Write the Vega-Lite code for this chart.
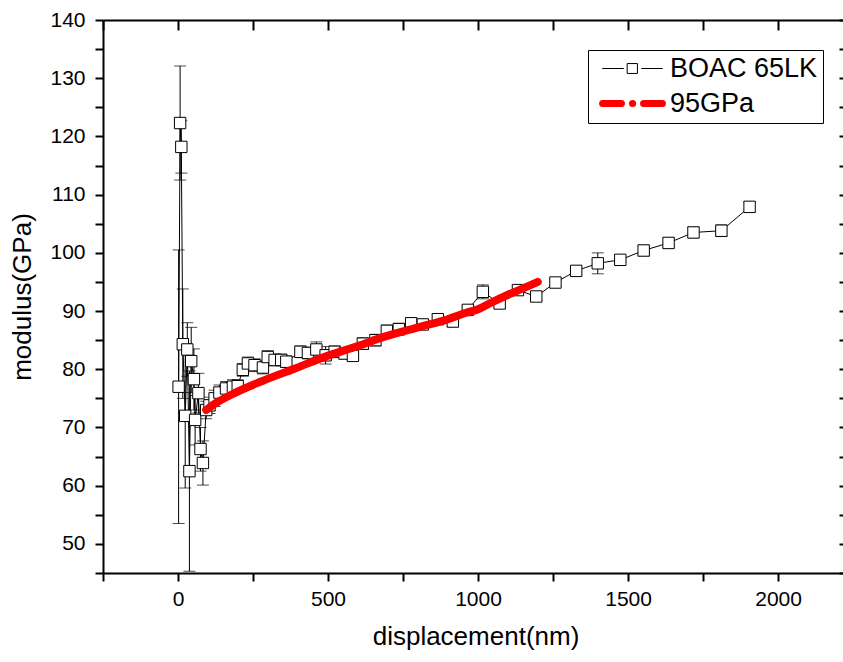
{
  "$schema": "https://vega.github.io/schema/vega-lite/v6.json",
  "width": 745,
  "height": 553,
  "autosize": {"type": "none"},
  "padding": {"left": 103, "top": 20, "right": 0, "bottom": 89},
  "background": "white",
  "config": {
    "view": {"stroke": null},
    "font": "Liberation Sans",
    "axis": {
      "domainColor": "black", "domainWidth": 2, "tickColor": "black", "tickWidth": 2,
      "labelColor": "black", "titleColor": "black", "grid": false,
      "labelFont": "Liberation Sans", "titleFont": "Liberation Sans",
      "labelFontSize": 21, "titleFontSize": 26, "titleFontWeight": "normal",
      "labelOverlap": false, "labelFlush": false
    }
  },
  "datasets": {
    "boac": [
      {"series": "BOAC 65LK", "x": 2, "y": 77.0, "lo": 53.5, "hi": 100.5},
      {"series": "BOAC 65LK", "x": 7, "y": 122.3, "lo": 112.5, "hi": 132.1},
      {"series": "BOAC 65LK", "x": 11, "y": 118.2, "lo": 113.7, "hi": 122.7},
      {"series": "BOAC 65LK", "x": 16, "y": 84.3, "lo": 75.0, "hi": 93.8},
      {"series": "BOAC 65LK", "x": 24, "y": 72.0, "lo": 59.6, "hi": 84.4},
      {"series": "BOAC 65LK", "x": 31, "y": 83.4, "lo": 78.8, "hi": 88.0},
      {"series": "BOAC 65LK", "x": 38, "y": 62.5, "lo": 45.3, "hi": 79.7},
      {"series": "BOAC 65LK", "x": 44, "y": 81.4, "lo": 76.0, "hi": 87.2},
      {"series": "BOAC 65LK", "x": 53, "y": 78.3, "lo": 73.0, "hi": 83.5},
      {"series": "BOAC 65LK", "x": 57, "y": 71.3, "lo": 67.0, "hi": 75.5},
      {"series": "BOAC 65LK", "x": 68, "y": 75.9, "lo": 72.5, "hi": 79.3},
      {"series": "BOAC 65LK", "x": 75, "y": 66.3, "lo": 62.5, "hi": 70.0},
      {"series": "BOAC 65LK", "x": 83, "y": 63.9, "lo": 60.1, "hi": 67.7},
      {"series": "BOAC 65LK", "x": 94, "y": 73.0, "lo": 71.5, "hi": 74.5},
      {"series": "BOAC 65LK", "x": 105, "y": 73.8, "lo": 72.4, "hi": 75.2},
      {"series": "BOAC 65LK", "x": 122, "y": 75.0, "lo": 73.6, "hi": 76.4},
      {"series": "BOAC 65LK", "x": 138, "y": 76.0, "lo": 74.7, "hi": 77.3},
      {"series": "BOAC 65LK", "x": 160, "y": 76.7, "lo": 75.5, "hi": 77.9},
      {"series": "BOAC 65LK", "x": 183, "y": 77.0, "lo": 75.8, "hi": 78.2},
      {"series": "BOAC 65LK", "x": 199, "y": 77.1, "lo": 76.0, "hi": 78.2},
      {"series": "BOAC 65LK", "x": 216, "y": 79.9, "lo": 78.8, "hi": 81.0},
      {"series": "BOAC 65LK", "x": 233, "y": 81.0, "lo": 79.9, "hi": 82.1},
      {"series": "BOAC 65LK", "x": 255, "y": 80.7, "lo": 79.6, "hi": 81.8},
      {"series": "BOAC 65LK", "x": 283, "y": 80.3, "lo": 79.2, "hi": 81.4},
      {"series": "BOAC 65LK", "x": 299, "y": 82.1, "lo": 81.0, "hi": 83.2},
      {"series": "BOAC 65LK", "x": 322, "y": 81.6, "lo": 80.6, "hi": 82.6},
      {"series": "BOAC 65LK", "x": 344, "y": 81.6, "lo": 80.6, "hi": 82.6},
      {"series": "BOAC 65LK", "x": 361, "y": 81.3, "lo": 80.3, "hi": 82.3},
      {"series": "BOAC 65LK", "x": 408, "y": 83.0, "lo": 82.0, "hi": 84.0},
      {"series": "BOAC 65LK", "x": 433, "y": 82.8, "lo": 81.8, "hi": 83.8},
      {"series": "BOAC 65LK", "x": 461, "y": 83.4, "lo": 82.1, "hi": 84.7},
      {"series": "BOAC 65LK", "x": 492, "y": 82.4, "lo": 80.9, "hi": 83.9},
      {"series": "BOAC 65LK", "x": 522, "y": 83.0, "lo": 82.0, "hi": 84.0},
      {"series": "BOAC 65LK", "x": 555, "y": 82.7, "lo": 81.8, "hi": 83.6},
      {"series": "BOAC 65LK", "x": 583, "y": 82.3, "lo": 81.5, "hi": 83.1},
      {"series": "BOAC 65LK", "x": 616, "y": 84.4, "lo": 83.4, "hi": 85.4},
      {"series": "BOAC 65LK", "x": 658, "y": 85.0, "lo": 84.0, "hi": 86.0},
      {"series": "BOAC 65LK", "x": 696, "y": 86.6, "lo": 85.6, "hi": 87.6},
      {"series": "BOAC 65LK", "x": 736, "y": 86.9, "lo": 85.9, "hi": 87.9},
      {"series": "BOAC 65LK", "x": 777, "y": 87.9, "lo": 87.1, "hi": 88.7},
      {"series": "BOAC 65LK", "x": 816, "y": 87.7, "lo": 86.9, "hi": 88.5},
      {"series": "BOAC 65LK", "x": 866, "y": 88.6, "lo": 87.8, "hi": 89.4},
      {"series": "BOAC 65LK", "x": 916, "y": 88.2, "lo": 87.3, "hi": 89.1},
      {"series": "BOAC 65LK", "x": 966, "y": 90.2, "lo": 89.5, "hi": 90.9},
      {"series": "BOAC 65LK", "x": 1016, "y": 93.3, "lo": 92.1, "hi": 94.5},
      {"series": "BOAC 65LK", "x": 1072, "y": 91.3, "lo": 90.6, "hi": 92.0},
      {"series": "BOAC 65LK", "x": 1133, "y": 93.6, "lo": 93.0, "hi": 94.2},
      {"series": "BOAC 65LK", "x": 1194, "y": 92.5, "lo": 91.8, "hi": 93.2},
      {"series": "BOAC 65LK", "x": 1258, "y": 94.9, "lo": 94.4, "hi": 95.4},
      {"series": "BOAC 65LK", "x": 1327, "y": 96.9, "lo": 96.2, "hi": 97.6},
      {"series": "BOAC 65LK", "x": 1399, "y": 98.2, "lo": 96.4, "hi": 100.0},
      {"series": "BOAC 65LK", "x": 1474, "y": 98.8, "lo": 98.5, "hi": 99.1},
      {"series": "BOAC 65LK", "x": 1552, "y": 100.4, "lo": 99.5, "hi": 101.3},
      {"series": "BOAC 65LK", "x": 1635, "y": 101.7, "lo": 100.9, "hi": 102.5},
      {"series": "BOAC 65LK", "x": 1718, "y": 103.5, "lo": 102.6, "hi": 104.4},
      {"series": "BOAC 65LK", "x": 1811, "y": 103.8, "lo": 102.8, "hi": 104.8},
      {"series": "BOAC 65LK", "x": 1905, "y": 107.9, "lo": 107.1, "hi": 108.7}
    ],
    "fit": [
      {"series": "95GPa", "x": 94, "y": 73.0},
      {"series": "95GPa", "x": 130, "y": 74.3},
      {"series": "95GPa", "x": 188, "y": 75.9},
      {"series": "95GPa", "x": 277, "y": 77.9},
      {"series": "95GPa", "x": 388, "y": 80.1},
      {"series": "95GPa", "x": 498, "y": 82.3},
      {"series": "95GPa", "x": 600, "y": 84.0},
      {"series": "95GPa", "x": 688, "y": 85.6},
      {"series": "95GPa", "x": 800, "y": 87.2},
      {"series": "95GPa", "x": 900, "y": 88.6},
      {"series": "95GPa", "x": 960, "y": 89.7},
      {"series": "95GPa", "x": 1000, "y": 90.3},
      {"series": "95GPa", "x": 1038, "y": 91.3},
      {"series": "95GPa", "x": 1100, "y": 92.8},
      {"series": "95GPa", "x": 1150, "y": 93.9},
      {"series": "95GPa", "x": 1199, "y": 95.0}
    ]
  },
  "resolve": {"axis": {"x": "independent", "y": "independent"}},
  "layer": [
    {
      "data": {"name": "boac"},
      "mark": {"type": "rule", "color": "black", "strokeWidth": 1},
      "encoding": {
        "x": {"field": "x", "type": "quantitative", "scale": {"domain": [-250, 2233], "nice": false, "zero": false},
          "axis": {"orient": "bottom", "values": [-250, 0, 250, 500, 750, 1000, 1250, 1500, 1750, 2000, 2250],
            "format": "d", "labelExpr": "datum.value % 500 === 0 ? datum.label : ''",
            "title": "displacement(nm)", "tickSize": 8, "labelPadding": 7, "titlePadding": 14}},
        "y": {"field": "lo", "type": "quantitative", "scale": {"domain": [45, 140], "nice": false, "zero": false},
          "axis": {"orient": "left", "values": [45, 50, 55, 60, 65, 70, 75, 80, 85, 90, 95, 100, 105, 110, 115, 120, 125, 130, 135, 140],
            "labelExpr": "datum.value % 10 === 0 ? datum.label : ''",
            "title": "modulus(GPa)", "tickSize": 8, "labelPadding": 10, "titlePadding": 14}},
        "y2": {"field": "hi"}
      }
    },
    {
      "data": {"name": "boac"},
      "mark": {"type": "tick", "orient": "horizontal", "color": "black", "size": 12, "thickness": 1},
      "encoding": {
        "x": {"field": "x", "type": "quantitative",
          "axis": {"orient": "top", "values": [-250, 0, 250, 500, 750, 1000, 1250, 1500, 1750, 2000, 2250],
            "labels": false, "title": null, "tickSize": -10}},
        "y": {"field": "lo", "type": "quantitative",
          "axis": {"orient": "right", "values": [45, 50, 55, 60, 65, 70, 75, 80, 85, 90, 95, 100, 105, 110, 115, 120, 125, 130, 135, 140],
            "labels": false, "title": null, "tickSize": -9}}
      }
    },
    {
      "data": {"name": "boac"},
      "mark": {"type": "tick", "orient": "horizontal", "color": "black", "size": 12, "thickness": 1},
      "encoding": {
        "x": {"field": "x", "type": "quantitative", "axis": null},
        "y": {"field": "hi", "type": "quantitative", "axis": null}
      }
    },
    {
      "data": {"name": "boac"},
      "mark": {"type": "line", "strokeWidth": 1},
      "encoding": {
        "x": {"field": "x", "type": "quantitative", "axis": null},
        "y": {"field": "y", "type": "quantitative", "axis": null},
        "color": {"field": "series", "type": "nominal",
          "scale": {"domain": ["BOAC 65LK", "95GPa"], "range": ["black", "#ff0000"]},
          "legend": {
            "orient": "none", "legendX": 485, "legendY": 30, "title": null,
            "strokeColor": "black", "fillColor": "white", "padding": 5,
            "labelFont": "Liberation Sans", "labelFontSize": 27, "labelColor": "black",
            "labelExpr": "datum.label + '\u00a0'",
            "symbolSize": 676, "symbolOffset": 26, "labelOffset": 24, "rowPadding": 7,
            "encode": {
              "symbols": {"update": {
                "shape": {"signal": "datum.value === 'BOAC 65LK' ? 'M-2.3,0H-0.7M0.7,0H2.3M-0.38,-0.38H0.38V0.38H-0.38Z' : 'M-2.3,0H-0.85M0,0H0.01M0.85,0H2.3'"},
                "strokeWidth": {"signal": "datum.value === 'BOAC 65LK' ? 1 : 7"},
                "strokeCap": {"value": "round"},
                "fill": {"value": "white"}
              }}
            }
          }}
      }
    },
    {
      "data": {"name": "boac"},
      "mark": {"type": "point", "shape": "square", "filled": true, "fill": "white", "stroke": "black", "strokeWidth": 1, "size": 130, "opacity": 1},
      "encoding": {
        "x": {"field": "x", "type": "quantitative", "axis": null},
        "y": {"field": "y", "type": "quantitative", "axis": null}
      }
    },
    {
      "data": {"name": "fit"},
      "mark": {"type": "line", "strokeWidth": 8, "strokeCap": "round", "strokeJoin": "round", "interpolate": "monotone"},
      "encoding": {
        "x": {"field": "x", "type": "quantitative", "axis": null},
        "y": {"field": "y", "type": "quantitative", "axis": null},
        "color": {"field": "series", "type": "nominal"}
      }
    }
  ]
}
